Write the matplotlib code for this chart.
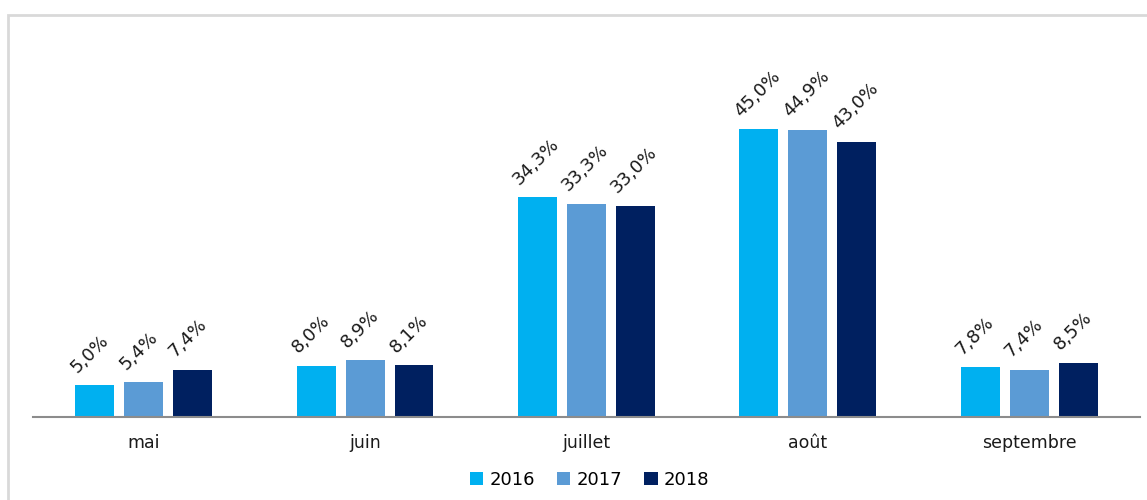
import numpy as np
import matplotlib.pyplot as plt
from matplotlib.patches import Rectangle

plt.rcParams["font.family"] = ["DejaVu Sans"]

# Data.
Months = ["mai", "juin", "juillet", "août", "septembre"]
Years = ["2016", "2017", "2018"]
Values2016 = [5.0, 8.0, 34.3, 45.0, 7.8]
Values2017 = [5.4, 8.9, 33.3, 44.9, 7.4]
Values2018 = [7.4, 8.1, 33.0, 43.0, 8.5]
Colours = ["#00B0F0", "#5B9BD5", "#002060"]

Fig = plt.figure(figsize=(11.47, 5.0), dpi=100)
Ax = Fig.add_axes([0.0288, 0.166, 0.965, 0.64])

X = np.arange(len(Months))
BarWidth = 0.176
Step = 0.221

for i, (Year, Values) in enumerate(zip(Years, [Values2016, Values2017, Values2018])):
	Pos = X + (i - 1) * Step
	Ax.bar(Pos, Values, BarWidth, color=Colours[i], label=Year, zorder=2)
	for p, v in zip(Pos, Values):
		Label = ("%.1f%%" % v).replace(".", ",")  # French decimal comma.
		Ax.annotate(Label, xy=(p, v), xytext=(-15, 9), textcoords="offset pixels",
			rotation=45, rotation_mode="anchor", ha="left", va="bottom",
			fontsize=13, color="#1A1A1A")

Ax.set_xlim(-0.5, 4.5)
Ax.set_ylim(0, 50)
Ax.set_xticks(X)
Ax.set_xticklabels(Months, fontsize=12.5, color="#1A1A1A")
Ax.tick_params(axis="x", length=0, pad=12)
Ax.set_yticks([])
for s in ["left", "right", "top"]:
	Ax.spines[s].set_visible(False)
Ax.spines["bottom"].set_color("#8C8C8C")
Ax.spines["bottom"].set_linewidth(1.5)

Fig.legend(loc="center", bbox_to_anchor=(0.514, 0.04), ncol=3, frameon=False,
	fontsize=13, handlelength=0.75, handleheight=0.75, handletextpad=0.35, columnspacing=1.2)

# Light grey frame around the chart area.
Fig.patches.append(Rectangle((8 / 1147, -0.1), 1.2, 1.07, transform=Fig.transFigure,
	fill=False, edgecolor="#D9D9D9", linewidth=2))

Fig.savefig("out.png", dpi=100)
